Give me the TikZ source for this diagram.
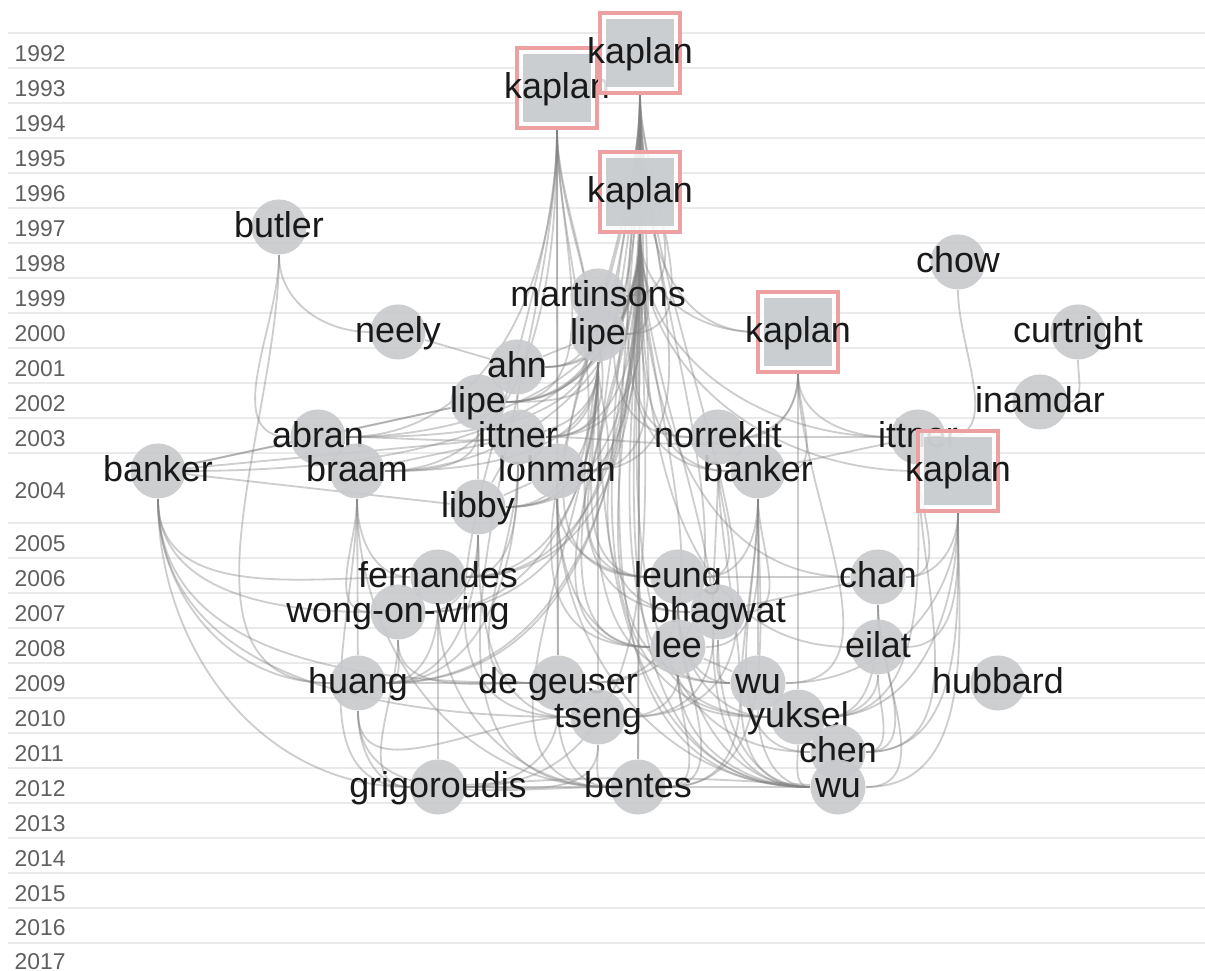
\documentclass[tikz,border=0pt]{standalone}
\usepackage{fontspec}
\setmainfont{Liberation Sans}
\usetikzlibrary{backgrounds}
\definecolor{nodegray}{RGB}{200,202,205}
\definecolor{boxgray}{RGB}{195,198,201}
\definecolor{boxpink}{RGB}{236,160,162}
\definecolor{edgegray}{RGB}{130,130,130}
\definecolor{rulegray}{RGB}{234,234,234}
\definecolor{yeargray}{RGB}{95,95,95}
\tikzset{
  pub/.style={circle, fill=nodegray, fill opacity=0.92, minimum size=0.55cm, inner sep=0pt},
  hub/.style={rectangle, fill=white, draw=boxpink, fill opacity=0.85, draw opacity=1,
    line width=0.035cm, minimum size=0.8cm, inner sep=0pt,
    path picture={\fill[boxgray] ([shift={(-0.34cm,-0.34cm)}]path picture bounding box.center)
      rectangle ([shift={(0.34cm,0.34cm)}]path picture bounding box.center);}},
  lbl/.style={font=\fontsize{10.2}{12}\selectfont, text=black!90, text opacity=1, fill opacity=1,
    text height=0.28cm, text depth=0.06cm, inner sep=0pt},
  yr/.style={font=\fontsize{6.5}{8}\selectfont, text=yeargray, anchor=west, inner sep=0pt},
  cite/.style={draw=edgegray, line width=0.018cm, opacity=0.4},
  dnr/.style={out=-90, in=180},
  dnl/.style={out=-90, in=0}
}
\begin{document}
\begin{tikzpicture}[x=0.01cm, y=0.01cm]
  \useasboundingbox (0,0) rectangle (1205,-971);
  \begin{pgfonlayer}{background}
    \fill[white] (0,0) rectangle (1205,-971);
    \foreach \y in {33,68,103,138,173,208,243,278,313,348,383,418,453,523,558,593,628,663,698,733,768,803,838,873,908,943}
      \draw[rulegray, line width=0.015cm] (8,-\y) -- (1205,-\y);
  \end{pgfonlayer}
  \foreach \yr/\y in {1992/54,1993/89,1994/124,1995/159,1996/194,1997/229,1998/264,1999/299,2000/334,2001/369,2002/404,2003/439,2004/491,2005/544,2006/579,2007/614,2008/649,2009/684,2010/719,2011/754,2012/789,2013/824,2014/859,2015/894,2016/928,2017/962}
    \node[yr] (y\yr) at (14,-\y) {\yr};

  \node[hub, label={[lbl]center:kaplan}] (k93) at (557,-88) {};
  \node[hub, label={[lbl]center:kaplan}] (k92) at (640,-53) {};
  \node[hub, label={[lbl]center:kaplan}] (k96) at (640,-192) {};
  \node[pub, label={[lbl]center:butler}] (butler) at (279,-227) {};
  \node[pub, label={[lbl]center:chow}] (chow) at (958,-262) {};
  \node[pub, label={[lbl]center:martinsons}] (martinsons) at (598,-296) {};
  \node[pub, label={[lbl]center:lipe}] (lipeA) at (598,-334) {};
  \node[pub, label={[lbl]center:neely}] (neely) at (398,-332) {};
  \node[hub, label={[lbl]center:kaplan}] (kA) at (798,-332) {};
  \node[pub, label={[lbl]center:curtright}] (curtright) at (1078,-332) {};
  \node[pub, label={[lbl]center:ahn}] (ahn) at (517,-367) {};
  \node[pub, label={[lbl]center:inamdar}] (inamdar) at (1040,-402) {};
  \node[pub, label={[lbl]center:lipe}] (lipeB) at (478,-402) {};
  \node[pub, label={[lbl]center:banker}] (bankerA) at (158,-471) {};
  \node[pub, label={[lbl]center:abran}] (abran) at (318,-437) {};
  \node[pub, label={[lbl]center:braam}] (braam) at (357,-471) {};
  \node[pub, label={[lbl]center:lohman}] (lohman) at (557,-471) {};
  \node[pub, label={[lbl]center:ittner}] (ittnerA) at (518,-437) {};
  \node[pub, label={[lbl]center:banker}] (bankerB) at (758,-471) {};
  \node[pub, label={[lbl]center:norreklit}] (norreklit) at (718,-437) {};
  \node[pub, label={[lbl]center:ittner}] (ittnerB) at (918,-437) {};
  \node[hub, label={[lbl]center:kaplan}] (kB) at (958,-471) {};
  \node[pub, label={[lbl]center:libby}] (libby) at (478,-507) {};
  \node[pub, label={[lbl]center:fernandes}] (fernandes) at (438,-577) {};
  \node[pub, label={[lbl]center:wong-on-wing}] (wong) at (398,-612) {};
  \node[pub, label={[lbl]center:leung}] (leung) at (678,-577) {};
  \node[pub, label={[lbl]center:chan}] (chan) at (878,-577) {};
  \node[pub, label={[lbl]center:bhagwat}] (bhagwat) at (718,-612) {};
  \node[pub, label={[lbl]center:lee}] (lee) at (678,-647) {};
  \node[pub, label={[lbl]center:eilat}] (eilat) at (878,-647) {};
  \node[pub, label={[lbl]center:de geuser}] (degeuser) at (558,-683) {};
  \node[pub, label={[lbl]center:huang}] (huang) at (358,-683) {};
  \node[pub, label={[lbl]center:wu}] (wuA) at (758,-683) {};
  \node[pub, label={[lbl]center:hubbard}] (hubbard) at (998,-683) {};
  \node[pub, label={[lbl]center:tseng}] (tseng) at (598,-717) {};
  \node[pub, label={[lbl]center:yuksel}] (yuksel) at (798,-717) {};
  \node[pub, label={[lbl]center:chen}] (chen) at (838,-752) {};
  \node[pub, label={[lbl]center:grigoroudis}] (grigoroudis) at (438,-787) {};
  \node[pub, label={[lbl]center:bentes}] (bentes) at (638,-787) {};
  \node[pub, label={[lbl]center:wu}] (wuB) at (838,-787) {};

  \begin{pgfonlayer}{background}
  \begin{scope}[cite]
    \draw (butler) to[dnr] (neely);
    \draw (butler) to[dnr] (abran);
    \draw (butler) to[dnr] (huang);
    \draw (neely) to (ahn);
    \draw (chow) to[dnl] (ittnerB);
    \draw (curtright) to[dnl] (inamdar);
    \draw (k93) to[dnl] (ahn);
    \draw (k93) to[dnl] (lipeB);
    \draw (k93) to[dnl] (ittnerA);
    \draw (k93) to (lohman);
    \draw (k93) to[dnl] (libby);
    \draw (k93) to (degeuser);
    \draw (k93) to[dnr] (tseng);
    \draw (k93) to[dnr] (bentes);
    \draw (k93) to[dnl] (abran);
    \draw (k93) to[dnl] (braam);
    \draw (k92) to (k96);
    \draw (k92) to[dnl] (martinsons);
    \draw (k92) to[dnl] (lipeA);
    \draw (k92) to[dnl] (ahn);
    \draw (k92) to[dnl] (lipeB);
    \draw (k92) to[dnl] (ittnerA);
    \draw (k92) to[dnl] (lohman);
    \draw (k92) to[dnr] (norreklit);
    \draw (k92) to[dnr] (bankerB);
    \draw (k92) to[dnl] (libby);
    \draw (k92) to[dnr] (leung);
    \draw (k92) to[dnr] (bhagwat);
    \draw (k92) to[dnr] (lee);
    \draw (k92) to[dnr] (wuA);
    \draw (k92) to[dnl] (degeuser);
    \draw (k92) to[dnl] (tseng);
    \draw (k92) to (bentes);
    \draw (k92) to[dnr] (wuB);
    \draw (k92) to[dnr] (yuksel);
    \draw (k92) to[dnl] (fernandes);
    \draw (k92) to[dnl] (huang);
    \draw (k92) to[dnr] (kA);
    \draw (k96) to[dnl] (martinsons);
    \draw (k96) to[dnl] (lipeA);
    \draw (k96) to[dnr] (kA);
    \draw (k96) to[dnl] (ahn);
    \draw (k96) to[dnl] (lipeB);
    \draw (k96) to[dnl] (abran);
    \draw (k96) to[dnl] (ittnerA);
    \draw (k96) to[dnr] (norreklit);
    \draw (k96) to[dnr] (ittnerB);
    \draw (k96) to[dnl] (bankerA);
    \draw (k96) to[dnl] (braam);
    \draw (k96) to[dnl] (lohman);
    \draw (k96) to[dnr] (bankerB);
    \draw (k96) to[dnr] (kB);
    \draw (k96) to[dnl] (libby);
    \draw (k96) to[dnl] (fernandes);
    \draw (k96) to[dnl] (wong);
    \draw (k96) to[dnr] (leung);
    \draw (k96) to[dnr] (chan);
    \draw (k96) to[dnr] (bhagwat);
    \draw (k96) to[dnr] (lee);
    \draw (k96) to[dnr] (eilat);
    \draw (k96) to[dnl] (huang);
    \draw (k96) to[dnl] (degeuser);
    \draw (k96) to[dnr] (wuA);
    \draw (k96) to[dnl] (tseng);
    \draw (k96) to[dnr] (yuksel);
    \draw (k96) to[dnr] (chen);
    \draw (k96) to[dnl] (grigoroudis);
    \draw (k96) to (bentes);
    \draw (k96) to[dnr] (wuB);
    \draw (martinsons) to[dnl] (abran);
    \draw (martinsons) to[dnl] (lipeB);
    \draw (lipeA) to (ahn);
    \draw (lipeA) to[dnl] (lipeB);
    \draw (lipeA) to[dnl] (ittnerA);
    \draw (lipeA) to[dnl] (lohman);
    \draw (lipeA) to[dnl] (abran);
    \draw (lipeA) to[dnl] (braam);
    \draw (lipeA) to[dnl] (libby);
    \draw (lipeA) to[dnl] (fernandes);
    \draw (lipeA) to[dnl] (wong);
    \draw (lipeA) to[dnr] (leung);
    \draw (lipeA) to[dnr] (lee);
    \draw (lipeA) to (tseng);
    \draw (lipeA) to[dnr] (bentes);
    \draw (lipeA) to[dnr] (wuB);
    \draw (kA) to[dnl] (ittnerA);
    \draw (kA) to[dnl] (norreklit);
    \draw (kA) to[dnl] (bankerB);
    \draw (kA) to[dnr] (ittnerB);
    \draw (kA) to[dnl] (wuA);
    \draw (kA) to (yuksel);
    \draw (ahn) to (lipeB);
    \draw (ahn) to (ittnerA);
    \draw (lipeB) to (abran);
    \draw (lipeB) to (bankerA);
    \draw (lipeB) to[dnl] (braam);
    \draw (lipeB) to (libby);
    \draw (abran) to (bankerA);
    \draw (ittnerA) to (bankerA);
    \draw (ittnerA) to (braam);
    \draw (ittnerA) to (lohman);
    \draw (ittnerA) to (libby);
    \draw (ittnerA) to[dnl] (fernandes);
    \draw (ittnerA) to[dnl] (huang);
    \draw (ittnerA) to[dnr] (degeuser);
    \draw (norreklit) to (ittnerB);
    \draw (norreklit) to (bankerB);
    \draw (norreklit) to[dnl] (leung);
    \draw (norreklit) to[dnl] (bentes);
    \draw (norreklit) to[dnr] (wuB);
    \draw (ittnerB) to (bankerB);
    \draw (ittnerB) to (kB);
    \draw (ittnerB) to[dnl] (chan);
    \draw (ittnerB) to[dnl] (yuksel);
    \draw (ittnerB) to[dnl] (chen);
    \draw (bankerA) to (libby);
    \draw (bankerA) to[dnr] (wong);
    \draw (bankerA) to[dnr] (huang);
    \draw (bankerA) to[dnr] (grigoroudis);
    \draw (bankerA) to[dnr] (degeuser);
    \draw (bankerA) to[dnr] (tseng);
    \draw (bankerA) to[dnr] (fernandes);
    \draw (braam) to[dnr] (fernandes);
    \draw (braam) to[dnr] (wong);
    \draw (braam) to (huang);
    \draw (braam) to[dnr] (grigoroudis);
    \draw (braam) to[dnr] (bentes);
    \draw (lohman) to (libby);
    \draw (lohman) to[dnr] (leung);
    \draw (lohman) to[dnr] (lee);
    \draw (lohman) to[dnr] (wuB);
    \draw (lohman) to (degeuser);
    \draw (bankerB) to[dnl] (leung);
    \draw (bankerB) to[dnl] (bhagwat);
    \draw (bankerB) to[dnl] (lee);
    \draw (bankerB) to (wuA);
    \draw (bankerB) to[dnr] (chen);
    \draw (bankerB) to[dnr] (wuB);
    \draw (bankerB) to[dnl] (bentes);
    \draw (kB) to[dnl] (chan);
    \draw (kB) to[dnl] (eilat);
    \draw (kB) to[dnl] (yuksel);
    \draw (kB) to[dnl] (chen);
    \draw (kB) to[dnl] (wuB);
    \draw (kB) to[dnl] (wuA);
    \draw (libby) to[dnl] (fernandes);
    \draw (libby) to[dnl] (wong);
    \draw (libby) to[dnl] (huang);
    \draw (libby) to[dnr] (tseng);
    \draw (fernandes) to (wong);
    \draw (fernandes) to[dnl] (huang);
    \draw (fernandes) to (grigoroudis);
    \draw (fernandes) to[dnr] (bentes);
    \draw (wong) to[dnl] (huang);
    \draw (wong) to[dnr] (grigoroudis);
    \draw (wong) to[dnr] (degeuser);
    \draw (leung) to (bhagwat);
    \draw (leung) to (lee);
    \draw (leung) to[dnr] (wuA);
    \draw (leung) to[dnr] (yuksel);
    \draw (leung) to[dnr] (wuB);
    \draw (leung) to[dnl] (bentes);
    \draw (chan) to (bhagwat);
    \draw (chan) to (leung);
    \draw (chan) to[dnl] (yuksel);
    \draw (chan) to[dnl] (wuB);
    \draw (chan) to[dnl] (chen);
    \draw (bhagwat) to (lee);
    \draw (bhagwat) to[dnr] (wuA);
    \draw (bhagwat) to[dnr] (wuB);
    \draw (lee) to (wuA);
    \draw (lee) to[dnr] (yuksel);
    \draw (lee) to[dnr] (wuB);
    \draw (lee) to[dnl] (bentes);
    \draw (lee) to[dnl] (tseng);
    \draw (eilat) to[dnl] (yuksel);
    \draw (eilat) to[dnl] (chen);
    \draw (huang) to (degeuser);
    \draw (huang) to[dnr] (grigoroudis);
    \draw (huang) to[dnr] (bentes);
    \draw (huang) to[dnr] (tseng);
    \draw (degeuser) to (tseng);
    \draw (degeuser) to[dnl] (grigoroudis);
    \draw (degeuser) to[dnr] (bentes);
    \draw (wuA) to (yuksel);
    \draw (wuA) to[dnr] (wuB);
    \draw (tseng) to[dnr] (bentes);
    \draw (tseng) to[dnl] (grigoroudis);
    \draw (yuksel) to (chen);
    \draw (yuksel) to[dnr] (wuB);
    \draw (chen) to (wuB);
    \draw (grigoroudis) to (bentes);
    \draw (grigoroudis) to[bend left=4] (wuB);
    \draw (bentes) to (wuB);
  \end{scope}
  \end{pgfonlayer}
\end{tikzpicture}
\end{document}
